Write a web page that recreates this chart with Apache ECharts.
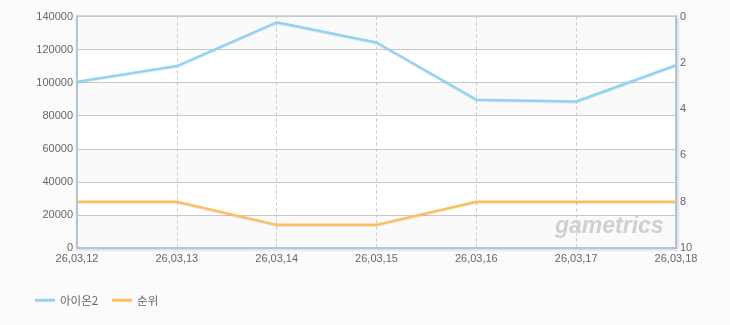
<!DOCTYPE html>
<html><head><meta charset="utf-8">
<script src="https://cdn.jsdelivr.net/npm/echarts@6/dist/echarts.min.js"></script>
<style>html,body{margin:0;padding:0;background:#fbfbfb}#c{width:730px;height:325px}</style>
</head><body><div id="c"></div>
<script>
var categories = ['26,03,12','26,03,13','26,03,14','26,03,15','26,03,16','26,03,17','26,03,18'];
var usersName = '아이온2';
var users = [100500, 110000, 136500, 124300, 89700, 88600, 110500];
var rankName = '순위';
var rank = [8, 8, 9, 9, 8, 8, 8];

var chart = echarts.init(document.getElementById('c'), null, {renderer:'canvas'});
var lab = {color:'#666', fontSize:11, fontFamily:'Liberation Sans, Arial, sans-serif'};
chart.setOption({
  backgroundColor:'#fbfbfb',
  animation:false,
  grid:{left:77, right:54, top:16.5, bottom:77, show:true, borderColor:'#b4c5d8', borderWidth:2,
        shadowColor:'rgba(0,0,0,0.15)', shadowBlur:3, shadowOffsetX:1, shadowOffsetY:1, backgroundColor:'#fff'},
  legend:{left:30, bottom:14, itemWidth:20, itemHeight:3, itemGap:14,
          icon:'rect',
          textStyle:{color:'#666', fontSize:11.5, fontFamily:'Noto Sans CJK KR, sans-serif'},
          data:[usersName, rankName]},
  xAxis:{type:'category', data:categories, boundaryGap:false,
         axisLine:{show:true, lineStyle:{color:'#b4c5d8', width:2}},
         axisTick:{show:false},
         axisLabel:Object.assign({margin:5, showMinLabel:true, showMaxLabel:true, interval:0}, lab),
         splitLine:{show:true, lineStyle:{color:'#c8c8c8', type:[3,3], width:1}}},
  yAxis:[
    {type:'value', min:0, max:140000, interval:20000, position:'left',
     axisLine:{show:true, lineStyle:{color:'#b4c5d8', width:2}},
     axisTick:{show:false},
     axisLabel:Object.assign({margin:4, formatter:function(v){return String(v);}}, lab),
     splitLine:{show:true, lineStyle:{color:'#c8c8c8', width:1}},
     splitArea:{show:true, areaStyle:{color:['#fafafa','#ffffff']}}},
    {type:'value', min:0, max:10, interval:2, inverse:true, position:'right',
     axisLine:{show:true, lineStyle:{color:'#b4c5d8', width:2}},
     axisTick:{show:false},
     axisLabel:Object.assign({margin:4}, lab),
     splitLine:{show:false}}
  ],
  graphic:[{type:'text', left:555, top:215, z:1,
    style:{text:'gametrics', font:'italic bold 23px "Liberation Sans", sans-serif', fill:'#d0d0d0'}}],
  series:[
    {name:usersName, type:'line', yAxisIndex:0, data:users, symbol:'none', z:3,
     itemStyle:{color:'#92d3f3'},
     lineStyle:{color:'#92d3f3', width:2.5, shadowColor:'rgba(0,0,0,0.08)', shadowOffsetY:1, shadowBlur:1}},
    {name:rankName, type:'line', yAxisIndex:1, data:rank, symbol:'none', z:3,
     itemStyle:{color:'#fbbf5c'},
     lineStyle:{color:'#fbbf5c', width:2.5, shadowColor:'rgba(0,0,0,0.08)', shadowOffsetY:1, shadowBlur:1}}
  ]
});
</script></body></html>
